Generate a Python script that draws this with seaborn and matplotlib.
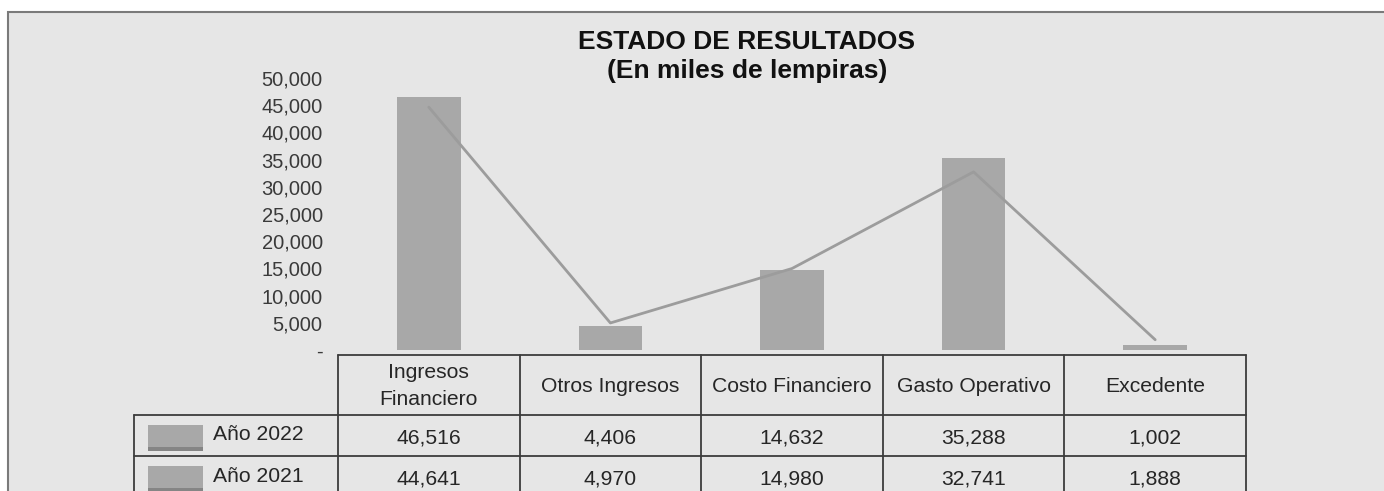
import matplotlib
matplotlib.use('Agg')
import matplotlib.pyplot as plt
import matplotlib.patheffects as pe
from matplotlib.patches import Rectangle
import pandas as pd
import seaborn as sns

categorias = ['Ingresos\nFinanciero', 'Otros Ingresos', 'Costo Financiero',
              'Gasto Operativo', 'Excedente']
anios = ['Año 2022', 'Año 2021']
valores_2022 = [46516, 4406, 14632, 35288, 1002]
valores_2021 = [44641, 4970, 14980, 32741, 1888]
y_ticks = [0, 5000, 10000, 15000, 20000, 25000, 30000, 35000, 40000, 45000, 50000]

W, H = 1384, 491
fondo = '#e6e6e6'
gris_barra = '#a8a8a8'
gris_linea = '#9c9c9c'
texto = '#262626'

sns.set_theme(style='white')
plt.rcParams['font.family'] = ['Liberation Sans', 'DejaVu Sans']

fig = plt.figure(figsize=(W / 100, H / 100), dpi=100, facecolor='white')

# panel de fondo con borde
panel = Rectangle((8 / W, -0.05), 1.05, 1.05 - 12 / H, transform=fig.transFigure,
                  facecolor=fondo, edgecolor='#7a7a7a', linewidth=1.5, zorder=-10)
fig.patches.append(panel)

def fx(px):
    return px / W

def fy(py):
    return 1 - py / H

left, right = 338, 1246
ax = fig.add_axes([fx(left), fy(350), fx(right - left), fy(78) - fy(350)])
ax.set_facecolor('none')

df = pd.DataFrame({'cat': categorias, '2022': valores_2022, '2021': valores_2021})
sombra = [pe.SimplePatchShadow(offset=(0, -3), shadow_rgbFace='#444444', alpha=0.6), pe.Normal()]
sns.barplot(data=df, x='cat', y='2022', color=gris_barra, width=0.35, saturation=1,
            edgecolor='none', linewidth=0, ax=ax, zorder=2)
for p in ax.patches:
    p.set_path_effects(sombra)
sns.lineplot(x=list(range(len(categorias))), y=valores_2021, color=gris_linea,
             linewidth=2, ax=ax, zorder=3)

ax.set_xlim(-0.5, len(categorias) - 0.5)
ax.set_ylim(0, 50000)
ax.set_yticks(y_ticks)
ax.set_yticklabels(['-' if v == 0 else f'{v:,}' for v in y_ticks])
ax.tick_params(axis='y', length=0, pad=11, labelsize=14.5, labelcolor='#3a3a3a')
ax.set_xticks([])
ax.set_xlabel('')
ax.set_ylabel('')
for s in ax.spines.values():
    s.set_visible(False)

fig.text(fx(747), fy(42), 'ESTADO DE RESULTADOS', ha='center', va='center',
         fontsize=19, fontweight='bold', color='#111111')
fig.text(fx(747), fy(71), '(En miles de lempiras)', ha='center', va='center',
         fontsize=19, fontweight='bold', color='#111111')

# tabla de datos
tab = fig.add_axes([fx(left), 0, fx(right - left), fy(355)])
tab.set_xlim(-0.5, len(categorias) - 0.5)
tab.set_ylim(H, 355)
tab.axis('off')
x_lab = -0.5 - (left - 134) / ((right - left) / len(categorias))
lc = '#3c3c3c'
n = len(categorias)
fs = 15.2
tab.plot([-0.5, n - 0.5], [355, 355], color=lc, lw=1.3, clip_on=False)
for yl in [415, 456]:
    tab.plot([x_lab, n - 0.5], [yl, yl], color=lc, lw=1.3, clip_on=False)
for i in range(n + 1):
    tab.plot([i - 0.5, i - 0.5], [355, H + 5], color=lc, lw=1.3, clip_on=False)
tab.plot([x_lab, x_lab], [415, H + 5], color=lc, lw=1.3, clip_on=False)

for i, c in enumerate(categorias):
    tab.text(i, 386, c, ha='center', va='center', fontsize=fs, color=texto,
             linespacing=1.5)

col_w = (right - left) / n
for r, (nombre, vals) in enumerate(zip(anios, [valores_2022, valores_2021])):
    yc = 436 + r * 41
    for i, v in enumerate(vals):
        tab.text(i, yc + 2, f'{v:,}', ha='center', va='center', fontsize=fs, color=texto)
    tab.text(x_lab + (213 - 134) / col_w, yc - 1, nombre, ha='left', va='center',
             fontsize=fs, color=texto)
    sw = Rectangle((x_lab + (148 - 134) / col_w, yc - 11), 55 / col_w, 22,
                   facecolor=gris_barra, edgecolor='none', clip_on=False)
    sw.set_path_effects(sombra)
    tab.add_patch(sw)

fig.savefig('out.png', dpi=100, facecolor='white')
